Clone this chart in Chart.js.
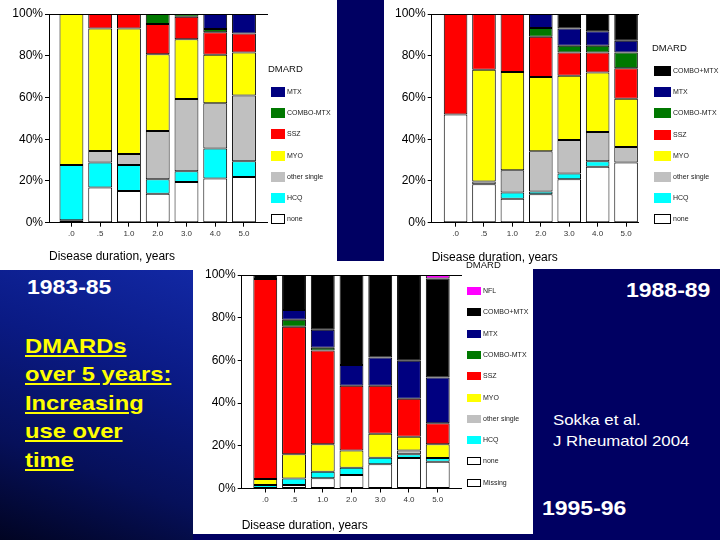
<!DOCTYPE html>
<html>
<head>
<meta charset="utf-8">
<script src="https://cdn.jsdelivr.net/npm/chart.js@4.4.1/dist/chart.umd.min.js"></script>
<style>
  html, body { margin: 0; padding: 0; }
  body {
    width: 720px; height: 540px; position: relative; overflow: hidden;
    background: #000062;
    font-family: "Liberation Sans", Arial, sans-serif;
  }
  .panel { position: absolute; background: #fff; }
  .glow {
    position: absolute; left: 0; top: 270px; width: 193px; height: 270px;
    background: linear-gradient(200deg, #1228a4 0%, #0a1a84 35%, #06105a 70%, #010422 100%);
  }
  canvas { position: absolute; }
  .big {
    position: absolute; color: #fff; font-weight: bold; font-size: 20px; line-height: 20px;
    white-space: nowrap; transform: scaleX(1.15); transform-origin: 0 50%;
  }
  .yellow {
    position: absolute; left: 25px; top: 332px; color: #ffff00; font-weight: bold;
    font-size: 21px; line-height: 28.4px; white-space: nowrap;
    transform: scaleX(1.13); transform-origin: 0 0;
    text-decoration: underline; text-decoration-thickness: 2px; text-underline-offset: 2px;
  }
  .cite {
    position: absolute; left: 553px; top: 409px; color: #fff; font-size: 15px; line-height: 21px;
    white-space: nowrap; transform: scaleX(1.12); transform-origin: 0 0;
  }
  .lg { position: absolute; font-size: 7px; color: #222; }
  .lg .t { position: absolute; left: 0; font-size: 9.5px; line-height: 12px; color: #111; white-space: nowrap; }
  .lg .b { position: absolute; box-sizing: border-box; }
  .lg .n { position: absolute; white-space: nowrap; line-height: 10px; }
</style>
</head>
<body>
<div class="glow"></div>
<div class="panel" style="left:0;top:0;width:337px;height:270px"></div>
<div class="panel" style="left:384px;top:0;width:336px;height:269px"></div>
<div class="panel" style="left:193px;top:261px;width:340px;height:273px"></div>

<canvas id="c1" width="280" height="270" style="left:0;top:0"></canvas>
<canvas id="c2" width="270" height="270" style="left:384px;top:0"></canvas>
<canvas id="c3" width="280" height="273" style="left:193px;top:261px"></canvas>

<div class="big" style="left:27px;top:277px">1983-85</div>
<div class="big" style="left:626px;top:280px">1988-89</div>
<div class="big" style="left:542px;top:498px">1995-96</div>
<div class="yellow">DMARDs<br>over 5 years:<br>Increasing<br>use over<br>time</div>
<div class="cite">Sokka et al.<br>J Rheumatol 2004</div>

<script>
const durations = ['.0', '.5', '1.0', '2.0', '3.0', '4.0', '5.0'];
const yTicks = ['0%', '20%', '40%', '60%', '80%', '100%'];

// 1983-85
const none8385 = [1.2, 16.9, 15.2, 13.9, 19.5, 21.2, 21.9];
const hcq8385 = [26.4, 11.9, 12.4, 6.9, 5.1, 14.4, 7.5];
const other8385 = [0, 5.5, 5.3, 23.1, 34.7, 21.6, 31.6];
const myo8385 = [72.4, 58.8, 60.2, 36.8, 28.6, 23.3, 20.6];
const ssz8385 = [0, 6.9, 6.9, 14.5, 10.8, 10.7, 9.0];
const comboMtx8385 = [0, 0, 0, 4.8, 1.3, 1.6, 0];
const mtx8385 = [0, 0, 0, 0, 0, 7.2, 9.4];

// 1988-89
const none8889 = [51.9, 18.4, 11.5, 13.6, 20.8, 26.8, 28.8];
const hcq8889 = [0, 0, 3.0, 1.3, 2.8, 2.6, 0];
const other8889 = [0, 1.4, 10.6, 19.3, 16.0, 14.1, 7.5];
const myo8889 = [0, 53.5, 47.1, 35.6, 30.8, 28.5, 23.1];
const ssz8889 = [48.1, 26.7, 27.8, 19.3, 11.2, 9.6, 14.6];
const comboMtx8889 = [0, 0, 0, 4.2, 3.2, 3.2, 7.5];
const mtx8889 = [0, 0, 0, 6.7, 8.2, 6.9, 5.7];
const comboPlusMtx8889 = [0, 0, 0, 0, 7.0, 8.3, 12.8];

// 1995-96
const missing9596 = [0, 0, 0, 0, 0, 0, 0];
const none9596 = [0, 1.6, 4.8, 6.3, 11.3, 14.3, 12.5];
const hcq9596 = [1.6, 3.1, 3.1, 3.4, 3.1, 1.7, 1.8];
const other9596 = [0, 0, 0, 0, 0, 1.8, 0];
const myo9596 = [2.8, 11.3, 12.8, 8.1, 11.2, 6.4, 6.4];
const ssz9596 = [93.7, 59.8, 43.9, 30.3, 22.5, 17.8, 9.9];
const comboMtx9596 = [0, 3.2, 1.3, 0, 0, 0, 0];
const mtx9596 = [0, 4.6, 8.5, 9.8, 13.2, 17.8, 21.4];
const comboPlusMtx9596 = [1.9, 16.4, 25.6, 42.1, 38.7, 40.2, 46.4];
const nfl9596 = [0, 0, 0, 0, 0, 0, 1.6];

const colors = {
  'Missing': '#ffffff', 'none': '#ffffff', 'HCQ': '#00ffff', 'other single': '#c0c0c0',
  'MYO': '#ffff00', 'SSZ': '#ff0000', 'COMBO-MTX': '#007800', 'MTX': '#000080',
  'COMBO+MTX': '#000000', 'NFL': '#ff00ff'
};

// bottom to top
const series1 = [['none', none8385], ['HCQ', hcq8385], ['other single', other8385], ['MYO', myo8385],
  ['SSZ', ssz8385], ['COMBO-MTX', comboMtx8385], ['MTX', mtx8385]];
const series2 = [['none', none8889], ['HCQ', hcq8889], ['other single', other8889], ['MYO', myo8889],
  ['SSZ', ssz8889], ['COMBO-MTX', comboMtx8889], ['MTX', mtx8889], ['COMBO+MTX', comboPlusMtx8889]];
const series3 = [['Missing', missing9596], ['none', none9596], ['HCQ', hcq9596], ['other single', other9596],
  ['MYO', myo9596], ['SSZ', ssz9596], ['COMBO-MTX', comboMtx9596], ['MTX', mtx9596],
  ['COMBO+MTX', comboPlusMtx9596], ['NFL', nfl9596]];

function makeChart(id, series, g) {
  new Chart(document.getElementById(id), {
    type: 'bar',
    data: {
      labels: durations.map((d, i) => i),
      datasets: series.map(([name, vals]) => ({
        label: name,
        data: vals,
        backgroundColor: colors[name],
        borderColor: '#000',
        borderWidth: 1,
        borderSkipped: false,
        barPercentage: 0.83,
        categoryPercentage: 1
      }))
    },
    options: {
      responsive: false,
      animation: false,
      layout: { padding: { top: 14, right: g.right, bottom: g.bottom, left: 0 } },
      plugins: { legend: { display: false }, tooltip: { enabled: false } },
      scales: {
        x: {
          type: 'linear', min: g.min, max: g.max, offset: false, stacked: true,
          grid: { display: true, drawOnChartArea: false, drawTicks: true, tickLength: 4, color: '#000', offset: false },
          border: { display: true, color: '#000', width: 1 },
          ticks: {
            stepSize: 1, includeBounds: false, autoSkip: false, maxRotation: 0, minRotation: 0,
            padding: 2, color: '#333', font: { size: 8 },
            callback: v => durations[v] ?? ''
          },
          title: { display: true, text: 'Disease duration, years', align: 'start', color: '#000',
            font: { size: 12 }, padding: 0 },
          afterFit: s => { s.height = g.xh; }
        },
        xTop: {
          type: 'linear', position: 'top', display: true,
          grid: { display: false }, ticks: { display: false },
          border: { display: true, color: '#000', width: 1 },
          afterFit: s => { s.height = 0; }
        },
        y: {
          min: 0, max: 100, stacked: true,
          grid: { display: true, drawOnChartArea: false, drawTicks: true, tickLength: 4, color: '#000' },
          border: { display: true, color: '#000', width: 1 },
          ticks: { stepSize: 20, padding: 2, color: '#000', font: { size: 12 },
            callback: v => yTicks[v / 20] },
          afterFit: s => { s.width = g.yw; }
        }
      }
    }
  });
}

makeChart('c1', series1, { yw: 49, xh: 41.5, right: 13, bottom: 5.8, min: -0.78, max: 6.8 });
makeChart('c2', series2, { yw: 47.7, xh: 42.3, right: 16, bottom: 5, min: -0.84, max: 6.42 });
makeChart('c3', series3, { yw: 48.7, xh: 44.4, right: 11.7, bottom: 1.1, min: -0.82, max: 6.82 });

function legend(series, g) {
  const box = document.createElement('div');
  box.className = 'lg';
  box.style.left = g.left + 'px';
  box.style.top = '0px';
  const t = document.createElement('div');
  t.className = 't';
  t.textContent = 'DMARD';
  t.style.left = (g.titleX - g.left) + 'px';
  t.style.top = (g.titleY - 6) + 'px';
  box.appendChild(t);
  series.slice().reverse().forEach(([name], i) => {
    const cy = g.firstY + i * g.step;
    const b = document.createElement('div');
    b.className = 'b';
    b.style.left = '0px';
    b.style.top = (cy - g.bh / 2) + 'px';
    b.style.width = g.bw + 'px';
    b.style.height = g.bh + 'px';
    b.style.background = colors[name];
    if (colors[name] === '#ffffff') b.style.border = '1px solid #000';
    box.appendChild(b);
    const n = document.createElement('div');
    n.className = 'n';
    n.textContent = name;
    n.style.left = (g.bw + 2) + 'px';
    n.style.top = (cy - 5) + 'px';
    box.appendChild(n);
  });
  document.body.appendChild(box);
}

legend(series1, { left: 271, titleX: 268, titleY: 69, firstY: 92, step: 21.2, bw: 14, bh: 10 });
legend(series2, { left: 654, titleX: 652, titleY: 47.7, firstY: 71, step: 21.2, bw: 17, bh: 10 });
legend(series3, { left: 467, titleX: 466, titleY: 265, firstY: 291, step: 21.3, bw: 14, bh: 8 });
</script>
</body>
</html>
